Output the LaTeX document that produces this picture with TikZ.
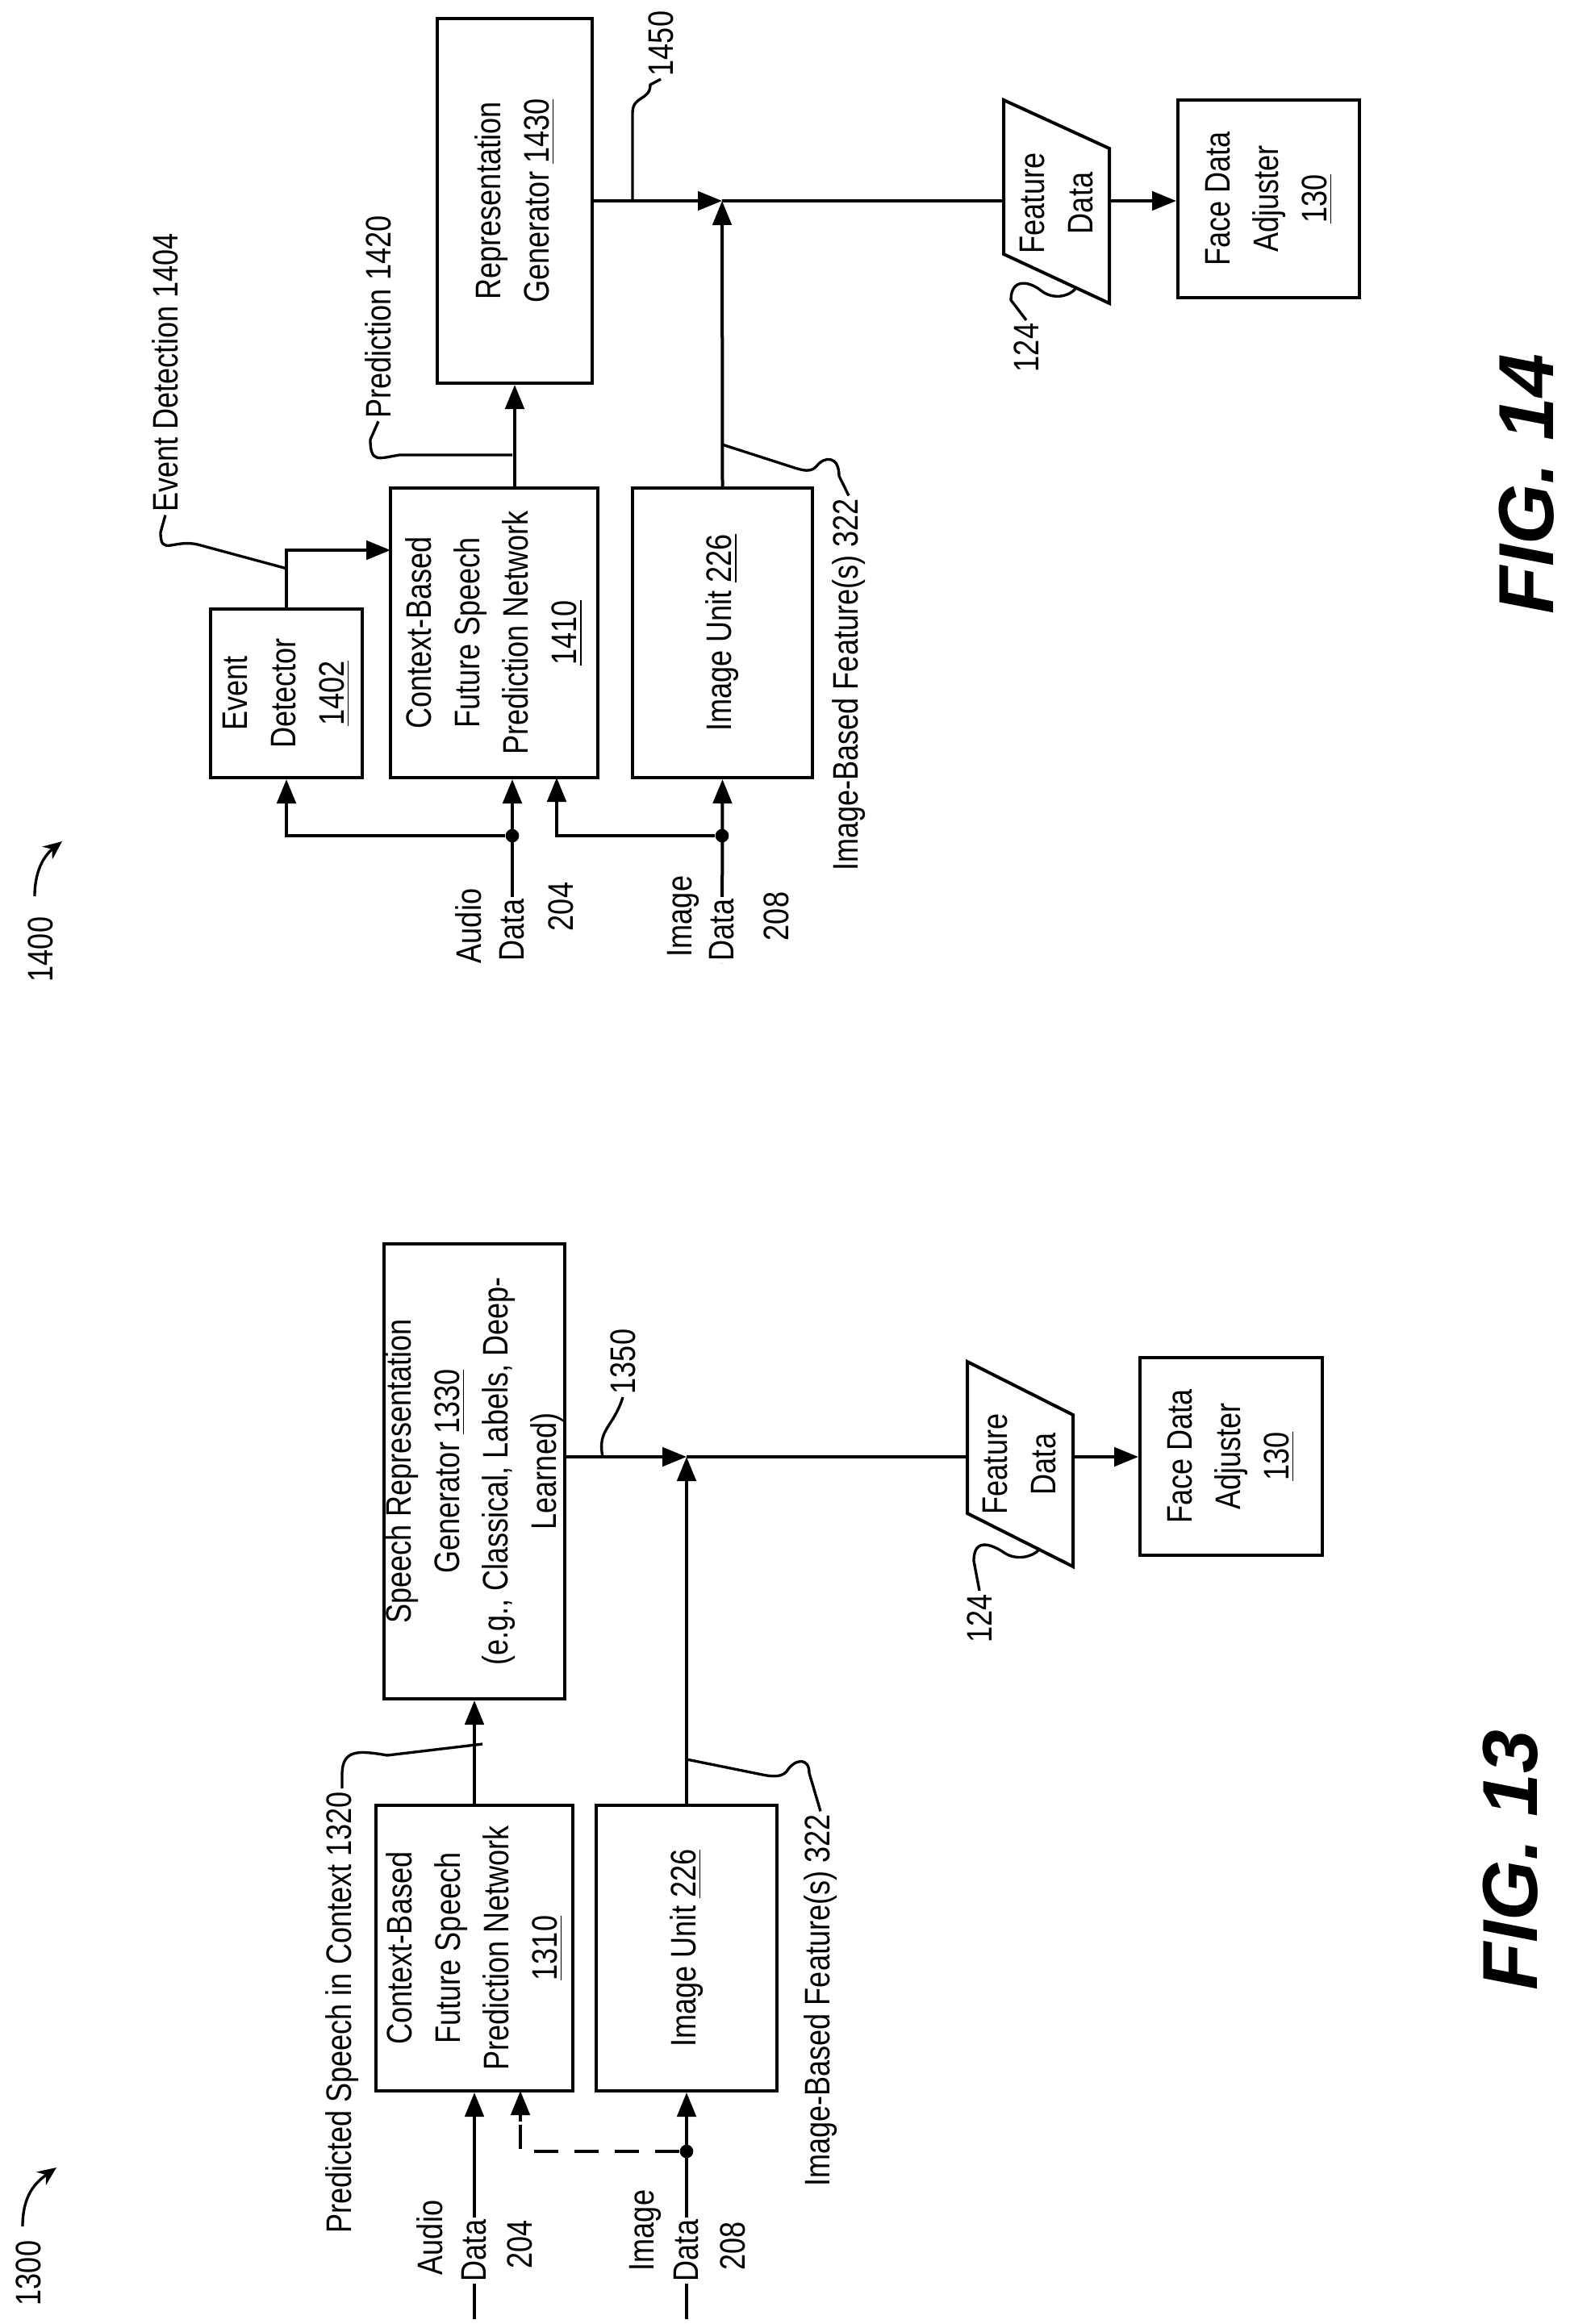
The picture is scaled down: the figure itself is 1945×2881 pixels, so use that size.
\documentclass[tikz,border=0pt]{standalone}
\usepackage{fontspec}
\setmainfont{Liberation Sans}[FakeStretch=0.82]
\newfontfamily\figfont{Liberation Sans}
\usetikzlibrary{arrows.meta,fit}
\begin{document}
\begin{tikzpicture}[x=0.3pt,y=-0.3pt,
  box/.style={draw,line width=1.2pt,inner sep=0pt},
  lbl/.style={rotate=90,align=center,font=\fontsize{13.2}{18}\selectfont,inner sep=1pt},
  arr/.style={line width=1.2pt,-{Triangle[length=9pt,width=7pt]}},
  ln/.style={line width=1.2pt},
  lead/.style={line width=1pt},
  fig/.style={rotate=90,font=\figfont\fontsize{29}{32}\selectfont\bfseries\itshape},
  dot/.style={circle,fill,inner sep=0pt,minimum size=5pt}]
\useasboundingbox (0,0) rectangle (1945,2881);
% ================= FIG 13 =================
\node[box,fit={(466,2238) (710,2592)}] (b1310) {};
\node[lbl] at (b1310.center) {Context-Based\\Future Speech\\Prediction Network\\\underline{1310}};
\node[box,fit={(739,2238) (963,2592)}] (bimg13) {};
\node[lbl] at (bimg13.center) {Image Unit \underline{226}};
\node[box,fit={(476,1542) (700,2106)}] (b1330) {};
\node[lbl] at (b1330.center) {Speech Representation\\Generator \underline{1330}\\(e.g., Classical, Labels, Deep-\\Learned)};
\node[box,fit={(1413,1683) (1639,1928)}] (fda13) {};
\node[lbl] at (fda13.center) {Face Data\\Adjuster\\\underline{130}};
\draw[ln] (1199,1688) -- (1330,1754) -- (1330,1942) -- (1199,1876) -- cycle;
\node[lbl] (fdt13) at (1264,1815) {Feature\\Data};
\coordinate (fd13l) at (1199,1806);
\coordinate (fd13r) at (1330,1806);
\coordinate (j13) at (851,1806);
\draw[arr] (b1330.east |- j13) -- (j13);
\draw[arr] (bimg13.north) -- (j13);
\draw[ln] (j13) -- (fd13l);
\draw[arr] (fd13r) -- (fda13.west |- fd13r);
\draw[arr] (b1310.north) -- (b1330.south);
\coordinate (a13) at (588,2875);
\coordinate (i13) at (851,2875);
\draw[arr] (a13) -- (b1310.south);
\draw[arr] (i13) -- (bimg13.south);
\node[dot] (d13) at (851,2667) {};
\coordinate (dt13) at (645,2592);
\coordinate (dt13b) at (645,2630);
\draw[ln,dash pattern=on 9pt off 6pt] (d13) -| (dt13b);
\draw[arr] (dt13b) -- (dt13);
\node[lbl] at (533,2774) {Audio};
\node[lbl,fill=white] at (588,2790) {Data};
\node[lbl] at (644,2782) {204};
\node[lbl] at (800,2765) {Image};
\node[lbl,fill=white] at (851,2790) {Data};
\node[lbl] at (908,2784) {208};
\node[lbl] (l1320) at (424,2495) {Predicted Speech in Context 1320};
\draw[lead] (l1320.east) -- (424,2200) .. controls (424,2168) and (445,2170) .. (480,2176) -- (598,2162);
\node[lbl] (l322a) at (1017,2480) {Image-Based Feature(s) 322};
\draw[lead] (l322a.east) -- (1003,2198) .. controls (1003,2178) and (985,2180) .. (975,2196) .. controls (968,2204) and (955,2202) .. (945,2200) -- (851,2181);
\node[lbl] (l1350) at (772,1688) {1350};
\draw[lead] (l1350.west) .. controls (760,1770) and (740,1772) .. (747,1806);
\node[lbl] (l124a) at (1214,2006) {124};
\draw[lead] (l124a.east) -- (1207,1935) .. controls (1207,1905) and (1230,1915) .. (1245,1925) .. controls (1260,1935) and (1280,1930) .. (1288,1921);
\node[lbl] (l1300) at (35,2818) {1300};
\draw[lead,-{Stealth[length=7pt,width=6pt]}] (28,2760) .. controls (28,2720) and (45,2705) .. (70,2687);
\node[fig] at (1872,2306) {FIG. 13};
% ================= FIG 14 =================
\node[box,fit={(261,755) (449,964)}] (ed) {};
\node[lbl] at (ed.center) {Event\\Detector\\\underline{1402}};
\node[box,fit={(484,605) (741,964)}] (b1410) {};
\node[lbl] at (b1410.center) {Context-Based\\Future Speech\\Prediction Network\\\underline{1410}};
\node[box,fit={(784,605) (1007,964)}] (bimg14) {};
\node[lbl] at (bimg14.center) {Image Unit \underline{226}};
\node[box,fit={(542,23) (734,475)}] (rg) {};
\node[lbl] at (rg.center) {Representation\\Generator \underline{1430}};
\node[box,fit={(1460,124) (1685,369)}] (fda14) {};
\node[lbl] at (fda14.center) {Face Data\\Adjuster\\\underline{130}};
\draw[ln] (1244,124) -- (1375,184) -- (1375,376) -- (1244,315) -- cycle;
\node[lbl] (fdt14) at (1310,252) {Feature\\Data};
\coordinate (fd14l) at (1244,249);
\coordinate (fd14r) at (1375,249);
\coordinate (j14) at (895,249);
\draw[arr] (rg.east |- j14) -- (j14);
\draw[arr] (bimg14.north) -- (j14);
\draw[ln] (j14) -- (fd14l);
\draw[arr] (fd14r) -- (fda14.west |- fd14r);
\draw[arr] (rg.south |- b1410.north) -- (rg.south);
\coordinate (e14) at (484,682);
\draw[arr] (ed.north) |- (e14);
\coordinate (a14) at (635,1194);
\coordinate (i14) at (895,1194);
\draw[arr] (a14) -- (a14 |- b1410.south);
\draw[arr] (i14) -- (bimg14.south);
\node[dot] (ad14) at (635,1036) {};
\node[dot] (id14) at (895,1036) {};
\draw[arr] (ad14) -| (ed.south);
\coordinate (it14) at (690,964);
\draw[arr] (id14) -| (it14);
\node[lbl] at (581,1148) {Audio};
\node[lbl,fill=white] at (635,1153) {Data};
\node[lbl] at (695,1124) {204};
\node[lbl] at (847,1136) {Image};
\node[lbl,fill=white] at (895,1153) {Data};
\node[lbl] at (962,1136) {208};
\node[lbl] (l1404) at (205,462) {Event Detection 1404};
\draw[lead] (l1404.west) -- (199,660) .. controls (199,690) and (215,668) .. (245,675) -- (356,705);
\node[lbl] (l1420) at (469,393) {Prediction 1420};
\draw[lead] (l1420.west) -- (459,545) .. controls (459,575) and (470,568) .. (495,564) -- (635,564);
\node[lbl] (l322b) at (1052,849) {Image-Based Feature(s) 322};
\draw[lead] (l322b.east) -- (1040,590) .. controls (1040,565) and (1022,565) .. (1012,578) .. controls (1005,586) and (995,583) .. (985,580) -- (895,551);
\node[lbl] (l1450) at (819,54) {1450};
\draw[lead] (l1450.west) -- (806,105) .. controls (806,125) and (784,118) .. (784,140) -- (784,249);
\node[lbl] (l124b) at (1272,431) {124};
\draw[lead] (l124b.east) -- (1253,372) .. controls (1253,345) and (1275,348) .. (1290,360) .. controls (1305,372) and (1325,368) .. (1334,357);
\node[lbl] (l1400) at (50,1177) {1400};
\draw[lead,-{Stealth[length=7pt,width=6pt]}] (43,1111) .. controls (43,1075) and (58,1058) .. (77,1043);
\node[fig] at (1892,600) {FIG. 14};
\end{tikzpicture}
\end{document}
